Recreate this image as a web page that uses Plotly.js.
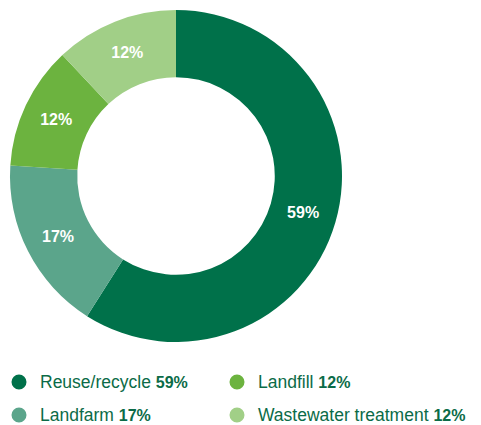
<!DOCTYPE html>
<html>
<head>
<meta charset="utf-8">
<script src="https://cdn.plot.ly/plotly-3.0.1.min.js"></script>
<style>html,body{margin:0;padding:0;background:#fff}</style>
</head>
<body>
<div id="chart" style="width:481px;height:425px"></div>
<script>
const categories = ["Reuse/recycle", "Landfarm", "Landfill", "Wastewater treatment"];
const values = [59, 17, 12, 12];
const colors = ["#00714A", "#5BA58B", "#6CB33F", "#A1CF87"];

const W = 481, H = 425;
const px = x => x / W;
const py = y => 1 - y / H;

const trace = {
  type: "pie",
  labels: categories,
  values: values,
  sort: false,
  direction: "clockwise",
  rotation: 0,
  hole: 0.595,
  marker: { colors: colors, line: { width: 0 } },
  texttemplate: "%{value}%",
  textposition: "inside",
  insidetextorientation: "horizontal",
  textfont: { family: "Liberation Sans, Arial, sans-serif", size: 16, color: "#ffffff", weight: "bold" },
  domain: { x: [px(10), px(342)], y: [py(342), py(10)] },
  showlegend: false,
  hoverinfo: "none"
};

const shapes = [];
const annotations = [];
const colX = [19, 237];
const rowY = [382, 415];
const textX = [39, 257];
categories.forEach((c, i) => {
  const col = Math.floor(i / 2), row = i % 2;
  const cx = colX[col], cy = rowY[row], r = 7.5;
  shapes.push({
    type: "circle", xref: "paper", yref: "paper",
    x0: px(cx - r), x1: px(cx + r), y0: py(cy + r), y1: py(cy - r),
    fillcolor: colors[i], line: { width: 0 }
  });
  annotations.push({
    xref: "paper", yref: "paper", x: px(textX[col]), y: py(cy - 0.5),
    xanchor: "left", yanchor: "middle", showarrow: false, borderpad: 0,
    text: c + " <span style=\"font-size:16px\"><b>" + values[i] + "%</b></span>",
    font: { family: "Liberation Sans, Arial, sans-serif", size: 17.5, color: "#0B6B47" }
  });
});

const layout = {
  width: W, height: H,
  margin: { l: 0, r: 0, t: 0, b: 0 },
  paper_bgcolor: "#ffffff",
  shapes: shapes,
  annotations: annotations,
  showlegend: false
};

Plotly.newPlot("chart", [trace], layout, { staticPlot: true, displayModeBar: false });
</script>
</body>
</html>
